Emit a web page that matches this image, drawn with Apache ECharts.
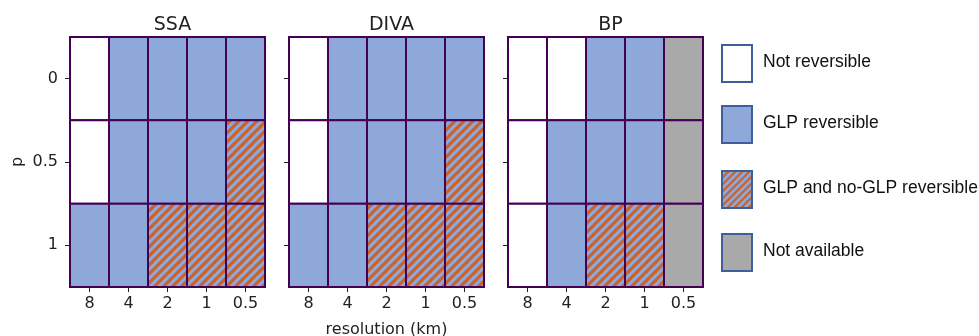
<!DOCTYPE html>
<html>
<head>
<meta charset="utf-8">
<script src="https://cdn.jsdelivr.net/npm/echarts@6/dist/echarts.min.js"></script>
<style>
html,body{margin:0;padding:0;background:#fff;}
#chart{width:979px;height:336px;}
</style>
</head>
<body>
<div id="chart"></div>
<script>
// ---- data ----
const resolutions = ['8', '4', '2', '1', '0.5'];
const pValues = ['0', '0.5', '1'];
const panelTitles = ['SSA', 'DIVA', 'BP'];
// states: 0 = Not reversible, 1 = GLP reversible, 2 = GLP and no-GLP reversible, 3 = Not available
const ssaStates = [
  [0, 1, 1, 1, 1],
  [0, 1, 1, 1, 2],
  [1, 1, 2, 2, 2]
];
const divaStates = [
  [0, 1, 1, 1, 1],
  [0, 1, 1, 1, 2],
  [1, 1, 2, 2, 2]
];
const bpStates = [
  [0, 0, 1, 1, 3],
  [0, 1, 1, 1, 3],
  [0, 1, 2, 2, 3]
];
const stateNames = ['Not reversible', 'GLP reversible', 'GLP and no-GLP reversible', 'Not available'];

// ---- styles ----
const BLUE = '#8fa8da';
const ORANGE = '#c9632a';
const GRAY = '#a9a9a9';
const EDGE = '#440154';

function makeHatch(P, w) {
  const c = document.createElement('canvas');
  c.width = P; c.height = P;
  const g = c.getContext('2d');
  g.fillStyle = BLUE;
  g.fillRect(0, 0, P, P);
  g.strokeStyle = ORANGE;
  g.lineWidth = w;
  for (let k = -1; k <= 1; k++) {
    g.beginPath();
    g.moveTo(-P + k * P, 2 * P);
    g.lineTo(2 * P + k * P, -P);
    g.stroke();
  }
  return c;
}
const hatchFill = { image: makeHatch(9, 3.2), repeat: 'repeat' };
const hatchFillLegend = { image: makeHatch(7, 2.2), repeat: 'repeat' };
function fillFor(s, legend) {
  if (s === 0) return '#ffffff';
  if (s === 1) return BLUE;
  if (s === 2) return legend ? hatchFillLegend : hatchFill;
  return GRAY;
}

const allStates = [ssaStates, divaStates, bpStates];
const gridLefts = [70, 289, 508];
const gridWidth = 195;
const gridTop = 37;
const gridHeight = 250;
const FONT = 'DejaVu Sans';

const grids = [], xAxes = [], yAxes = [], series = [], titles = [];
allStates.forEach((states, i) => {
  grids.push({ left: gridLefts[i], top: gridTop, width: gridWidth, height: gridHeight,
    outerBoundsMode: 'none', containLabel: false,
    show: true, borderColor: '#222', borderWidth: 1, backgroundColor: 'transparent' });
  xAxes.push({
    type: 'category', gridIndex: i, data: resolutions,
    axisLine: { show: true, lineStyle: { color: '#222', width: 1 } },
    axisTick: { show: true, alignWithLabel: true, length: 5, lineStyle: { color: '#222' } },
    axisLabel: { color: '#222', fontSize: 16, fontFamily: FONT, margin: 9 },
    splitLine: { show: false },
    name: i === 1 ? 'resolution (km)' : '',
    nameLocation: 'middle', nameGap: 35,
    nameTextStyle: { color: '#222', fontSize: 16, fontFamily: FONT }
  });
  yAxes.push({
    type: 'category', gridIndex: i, data: pValues, inverse: true,
    axisLine: { show: true, lineStyle: { color: '#222', width: 1 } },
    axisTick: { show: true, alignWithLabel: true, length: 5, lineStyle: { color: '#222' } },
    axisLabel: { show: i === 0, color: '#222', fontSize: 16, fontFamily: FONT, margin: 12 },
    splitLine: { show: false },
    name: i === 0 ? 'p' : '',
    nameLocation: 'middle', nameGap: 44, nameRotate: 90,
    nameTextStyle: { color: '#222', fontSize: 16, fontFamily: FONT }
  });
  const data = [];
  states.forEach((row, yi) => row.forEach((s, xi) => data.push([xi, yi, s])));
  series.push({
    type: 'custom', xAxisIndex: i, yAxisIndex: i, data: data,
    renderItem: function (params, api) {
      const c = api.coord([api.value(0), api.value(1)]);
      const sz = api.size([1, 1]);
      const s = api.value(2);
      return {
        type: 'rect',
        shape: { x: c[0] - sz[0] / 2, y: c[1] - sz[1] / 2, width: sz[0], height: sz[1] },
        style: { fill: fillFor(s, false), stroke: EDGE, lineWidth: 2 }
      };
    },
    silent: true
  });
  titles.push({
    text: panelTitles[i], left: gridLefts[i] + gridWidth / 2, top: 11, textAlign: 'center',
    textStyle: { fontSize: 19, fontWeight: 'normal', color: '#222', fontFamily: FONT }
  });
});

// legend drawn as graphics
const legendTops = [44, 105, 170, 233];
const graphic = [];
stateNames.forEach((name, k) => {
  graphic.push({
    type: 'rect', left: 721, top: legendTops[k],
    shape: { width: 30, height: 37 },
    style: { fill: fillFor(k, true), stroke: '#3e5f9c', lineWidth: 2 }
  });
  graphic.push({
    type: 'text', left: 763, top: legendTops[k] + 9,
    style: { text: name, fill: '#111', font: '17.5px "Liberation Sans"' }
  });
});

const chart = echarts.init(document.getElementById('chart'), null, { renderer: 'canvas' });
chart.setOption({
  animation: false,
  backgroundColor: '#fff',
  title: titles,
  grid: grids,
  xAxis: xAxes,
  yAxis: yAxes,
  series: series,
  graphic: graphic
});
</script>
</body>
</html>
